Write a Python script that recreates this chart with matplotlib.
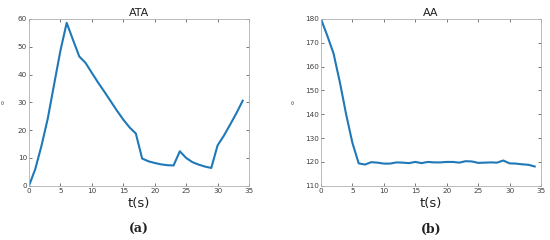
import numpy as np
import matplotlib
matplotlib.use("Agg")
import matplotlib.pyplot as plt

# data
t = np.arange(0, 35)
ata = [0, 6, 14.5, 24.3, 36.5, 48.6, 58.6, 52.5, 46.5, 44.2, 40.6, 37.1, 33.8, 30.4,
       27.0, 23.8, 21.0, 18.8, 9.8, 8.8, 8.2, 7.7, 7.4, 7.3, 12.4, 10.0, 8.5, 7.6,
       6.9, 6.4, 14.5, 18.0, 22.0, 26.1, 30.6]
aa = [180, 173, 165.5, 153.5, 140, 128, 119.4, 118.9, 119.9, 119.7, 119.3, 119.3,
      119.8, 119.7, 119.5, 120.0, 119.5, 120.0, 119.8, 119.8, 120.0, 120.0, 119.7,
      120.3, 120.2, 119.6, 119.7, 119.8, 119.7, 120.6, 119.4, 119.3, 119.0, 118.8, 118.1]

titles = ["ATA", "AA"]
panels = ["(a)", "(b)"]
series = [ata, aa]
ylims = [(0, 60), (110, 180)]
yticks = [np.arange(0, 61, 10), np.arange(110, 181, 10)]

fig = plt.figure(figsize=(5.5, 2.4), dpi=100)
lefts = [0.0527, 0.5836]
ylab_x = [-0.106, -0.114]
txt = "#404040"

for i in range(2):
    ax = fig.add_axes([lefts[i], 0.226, 0.4, 0.695])
    ax.plot(t, series[i], color="#1f78b8", lw=1.5)
    ax.set_xlim(0, 35)
    ax.set_ylim(*ylims[i])
    ax.set_xticks(np.arange(0, 36, 5))
    ax.set_yticks(yticks[i])
    ax.tick_params(direction="in", length=2, width=0.5, labelsize=5.2, colors=txt,
                   top=True, right=True, pad=1.5)
    for s in ax.spines.values():
        s.set_color("#b0b0b0")
        s.set_linewidth(0.6)
    ax.set_title(titles[i], fontsize=8, color="#202020", pad=2)
    ax.set_xlabel("t(s)", fontsize=9.5, color="#202020", labelpad=2)
    ax.set_ylabel("o", fontsize=4.5, color=txt)
    ax.yaxis.set_label_coords(ylab_x[i], 0.5)
    fig.text(lefts[i] + 0.2, 0.042, panels[i], ha="center", va="center",
             fontsize=9, fontweight="bold", family="DejaVu Serif", color="#202020")

fig.savefig("out.png", dpi=100)
